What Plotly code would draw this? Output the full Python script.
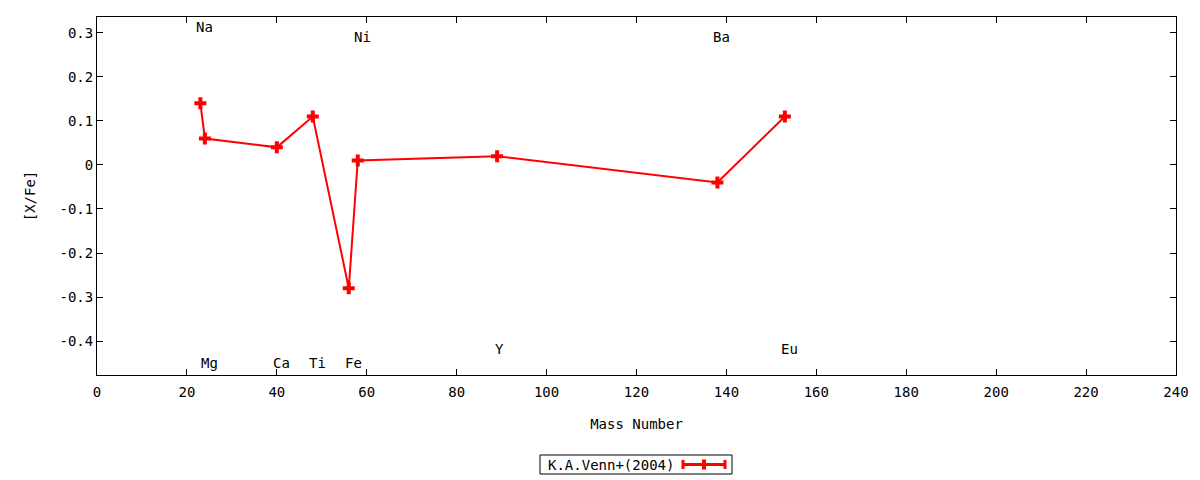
import plotly.graph_objects as go

# abundance ratios vs mass number
elements = ["Na", "Mg", "Ca", "Ti", "Fe", "Ni", "Y", "Ba", "Eu"]
mass = [23, 24, 40, 48, 56, 58, 89, 138, 153]
x_fe = [0.14, 0.06, 0.04, 0.11, -0.28, 0.01, 0.02, -0.04, 0.11]

# element label positions (centre of text)
label_x = [24, 25, 41, 49, 57, 59, 89.5, 139, 154]
label_y = [0.314, -0.45, -0.45, -0.45, -0.45, 0.291, -0.418, 0.291, -0.418]

xticks = list(range(0, 241, 20))
yticks = [0.3, 0.2, 0.1, 0, -0.1, -0.2, -0.3, -0.4]
yticklabels = ["0.3", "0.2", "0.1", "0", "-0.1", "-0.2", "-0.3", "-0.4"]

font = dict(family="DejaVu Sans Mono", size=14, color="black")
red = "#ff0000"

fig = go.Figure()
fig.add_trace(go.Scatter(
    x=mass, y=x_fe, mode="lines+markers", name="K.A.Venn+(2004)",
    line=dict(color=red, width=2),
    marker=dict(symbol="cross", size=10, color=red),
    showlegend=False,
))

for name, lx, ly in zip(elements, label_x, label_y):
    fig.add_annotation(x=lx, y=ly, text=name, showarrow=False,
                       xanchor="center", yanchor="middle", font=font)

# gnuplot-style legend box below the plot (text left, sample right)
W, H = 1079.0, 358.0
def px(x):
    return (x - 97) / W
def py(y):
    return (375 - y) / H

fig.add_shape(type="rect", xref="paper", yref="paper",
              x0=px(540), x1=px(732), y0=py(474), y1=py(455),
              line=dict(color="black", width=1))
fig.add_annotation(xref="paper", yref="paper", x=px(676), y=py(464.5),
                   text="K.A.Venn+(2004)", showarrow=False,
                   xanchor="right", yanchor="middle", font=font)
fig.add_shape(type="line", xref="paper", yref="paper",
              x0=px(683), x1=px(725), y0=py(464.5), y1=py(464.5),
              line=dict(color=red, width=3))
for cx in (683, 725):
    fig.add_shape(type="line", xref="paper", yref="paper",
                  x0=px(cx), x1=px(cx), y0=py(460), y1=py(469),
                  line=dict(color=red, width=3))
fig.add_shape(type="line", xref="paper", yref="paper",
              x0=px(704), x1=px(704), y0=py(459.5), y1=py(469.5),
              line=dict(color=red, width=4))

axis = dict(showline=True, linecolor="black", linewidth=1, mirror="ticks",
            ticks="inside", ticklen=6, tickcolor="black", showgrid=False,
            zeroline=False, tickfont=font)

fig.update_xaxes(range=[0, 240], tickvals=xticks, ticklabelstandoff=4,
                 title=dict(text="Mass Number", font=font, standoff=20), **axis)
fig.update_yaxes(range=[-0.477, 0.336], tickvals=yticks, ticktext=yticklabels,
                 title=dict(text="[X/Fe]", font=font, standoff=20), **axis)

fig.update_layout(
    width=1200, height=480,
    margin=dict(l=97, r=24, t=17, b=105),
    plot_bgcolor="white", paper_bgcolor="white",
    font=font,
)

fig.write_html("out.html", config={"displayModeBar": False},
               post_script="document.body.style.margin='0';")
